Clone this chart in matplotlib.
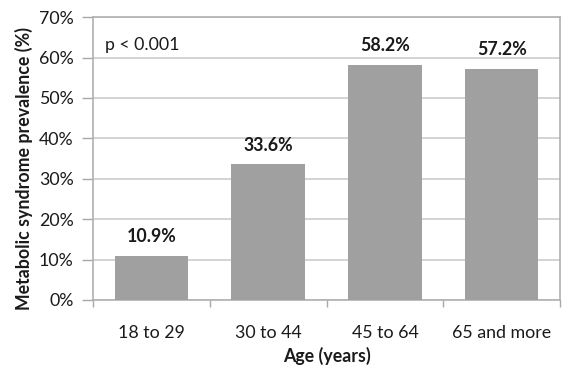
import matplotlib
matplotlib.use("Agg")
import matplotlib.pyplot as plt
import numpy as np
from matplotlib.ticker import PercentFormatter

categories = ["18 to 29", "30 to 44", "45 to 64", "65 and more"]
prevalence = [10.9, 33.6, 58.2, 57.2]
labels = ["10.9%", "33.6%", "58.2%", "57.2%"]

plt.rcParams["font.family"] = ["Lato", "DejaVu Sans"]
fs = 12.8
txt = "#1a1a1a"

fig = plt.figure(figsize=(5.78, 3.81), dpi=100)
ax = fig.add_axes([0.161, 0.2126, 0.808, 0.7424])

x = np.arange(len(categories))
ax.bar(x, prevalence, width=0.63, color="#a0a0a0", zorder=3)
for xi, v, lab in zip(x, prevalence, labels):
    ax.text(xi, v + 2.6, lab, ha="center", va="bottom", fontsize=fs, fontweight="bold", color=txt)

ax.set_xlim(-0.5, len(categories) - 0.5)
ax.set_ylim(0, 70)
ax.set_yticks(np.arange(0, 71, 10))
ax.yaxis.set_major_formatter(PercentFormatter(decimals=0))
ax.grid(axis="y", color="#cccccc", linewidth=1.2, zorder=0)

ax.set_xticks(x)
ax.set_xticklabels(categories)
ax.set_xticks(np.arange(-0.5, len(categories)), minor=True)
ax.tick_params(axis="x", which="major", length=0, pad=18, labelsize=fs, colors=txt)
ax.tick_params(axis="x", which="minor", length=5, color="#a8a8a8", width=1)
ax.tick_params(axis="y", length=8, color="#a8a8a8", width=1, pad=6, labelsize=fs, labelcolor=txt)

for s in ax.spines.values():
    s.set_color("#b0b0b0")
    s.set_linewidth(1.2)

ax.text(0.025, 0.90, "p < 0.001", transform=ax.transAxes, fontsize=fs, color=txt, va="center")

ax.set_xlabel("Age (years)", fontsize=fs, fontweight="bold", labelpad=4, color=txt)
ax.set_ylabel("Metabolic syndrome prevalence (%)", fontsize=fs, fontweight="bold", color=txt)
ax.yaxis.set_label_coords(-0.128, 0.465)

fig.savefig("out.png", dpi=100)
